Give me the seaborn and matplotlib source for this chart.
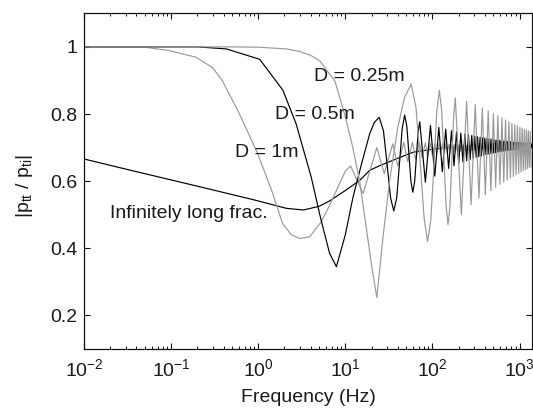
import numpy as np
import matplotlib
matplotlib.use("Agg")
import matplotlib.pyplot as plt
import seaborn as sns
from matplotlib.ticker import FixedLocator, LogLocator, NullFormatter

# ---------------- data ----------------
inf_freq = [0.01, 0.03, 0.073, 0.2, 0.5, 0.87, 1.5, 2.1, 3.3, 5, 6.6, 10, 14.6, 19, 24.8, 40, 60, 100, 145, 300, 1400]
inf_mag = [0.666, 0.636, 0.612, 0.585, 0.56, 0.545, 0.529, 0.519, 0.514, 0.525, 0.541, 0.572, 0.602, 0.632, 0.646, 0.668, 0.686, 0.695, 0.70, 0.702, 0.702]

# D = 1 m
d1_freq_start = [0.01, 0.05, 0.095, 0.194, 0.30, 0.39, 0.61, 0.99, 1.47, 1.9, 2.4, 3.0, 3.9, 5.3, 6.6, 8.5, 10.0]
d1_mag_start = [1.0, 0.999, 0.989, 0.969, 0.938, 0.898, 0.80, 0.681, 0.563, 0.474, 0.44, 0.429, 0.434, 0.479, 0.528, 0.59, 0.63]
d1_peak_freq = [11.5, 23, 35, 47, 59, 71, 83, 95, 107, 119, 131, 143, 155, 167, 179, 191, 203, 215, 227, 239,
                251, 263, 275, 287, 299, 311, 323, 335, 347, 359, 371, 383, 395]
d1_peak_mag = [0.645, 0.700, 0.711, 0.716, 0.716, 0.715, 0.714, 0.713, 0.712, 0.712, 0.711, 0.711, 0.710, 0.710,
               0.709, 0.709, 0.709, 0.708, 0.708, 0.708, 0.707, 0.707, 0.707, 0.707, 0.706, 0.706, 0.706, 0.706,
               0.706, 0.705, 0.705, 0.705, 0.705]
d1_trough_freq = [16, 28, 40, 52, 64, 76, 88, 100, 112, 124, 136, 148, 160, 172, 184, 196, 208, 220, 232, 244,
                  256, 268, 280, 292, 304, 316, 328, 340, 352, 364, 376, 388, 400]
d1_trough_mag = [0.563, 0.622, 0.645, 0.658, 0.665, 0.670, 0.674, 0.677, 0.679, 0.681, 0.683, 0.684, 0.685, 0.686,
                 0.687, 0.688, 0.689, 0.690, 0.690, 0.691, 0.691, 0.692, 0.692, 0.693, 0.693, 0.694, 0.694, 0.694,
                 0.695, 0.695, 0.695, 0.696, 0.696]
d1_freq_tail = [700, 1400]
d1_mag_tail = [0.701, 0.701]

# D = 0.5 m
d05_freq_start = [0.01, 0.2, 0.43, 1.04, 1.92, 2.73, 4.06, 5.2, 6.6, 7.9, 10, 12.2, 15.3, 19, 21.5]
d05_mag_start = [1.0, 1.0, 0.994, 0.963, 0.871, 0.77, 0.612, 0.49, 0.385, 0.345, 0.44, 0.55, 0.65, 0.74, 0.775]
d05_shape_freq = [27.4, 30.2, 33.1, 38.9, 41.9, 44.9, 50.9, 53.7, 56.6, 62.5, 65.5, 68.5]
d05_shape_mag = [0.75, 0.65, 0.55, 0.55, 0.654, 0.755, 0.763, 0.682, 0.6, 0.598, 0.672, 0.746]
d05_peak_freq = [24.5, 48, 71.5, 95, 118.5, 142, 165.5, 189, 212, 236, 259, 283, 306, 330, 353, 377, 400, 424,
                 447, 471, 494, 518, 541, 565, 588, 612, 635, 659, 682, 706, 729, 753, 776, 800, 823, 847, 870,
                 894, 917, 941, 964, 988, 1011, 1035, 1058, 1082, 1105, 1129, 1152, 1176, 1199, 1223, 1246,
                 1270, 1293, 1317, 1340, 1364]
d05_peak_mag = [0.790, 0.797, 0.777, 0.766, 0.760, 0.755, 0.750, 0.746, 0.743, 0.740, 0.738, 0.736, 0.734, 0.732,
                0.731, 0.729, 0.728, 0.727, 0.726, 0.725, 0.724, 0.723, 0.722, 0.722, 0.721, 0.720, 0.720, 0.719,
                0.719, 0.718, 0.718, 0.717, 0.717, 0.717, 0.716, 0.716, 0.716, 0.715, 0.715, 0.715, 0.714, 0.714,
                0.714, 0.714, 0.713, 0.713, 0.713, 0.713, 0.713, 0.712, 0.712, 0.712, 0.712, 0.712, 0.711, 0.711,
                0.711, 0.711]
d05_trough_freq = [36, 59.5, 83, 106.5, 130, 153.5, 177, 200.5, 224, 247, 271, 294, 318, 341, 365, 388, 412, 435,
                   459, 482, 506, 529, 553, 576, 600, 623, 647, 670, 694, 717, 741, 764, 788, 811, 835, 858, 882,
                   905, 929, 952, 976, 999, 1023, 1046, 1070, 1093, 1117, 1140, 1164, 1187, 1211, 1234, 1258,
                   1281, 1305, 1328, 1352, 1375]
d05_trough_mag = [0.511, 0.567, 0.597, 0.615, 0.628, 0.638, 0.646, 0.652, 0.657, 0.661, 0.665, 0.668, 0.671, 0.673,
                  0.675, 0.677, 0.679, 0.680, 0.682, 0.683, 0.684, 0.685, 0.686, 0.687, 0.688, 0.689, 0.689, 0.690,
                  0.691, 0.691, 0.692, 0.692, 0.693, 0.693, 0.694, 0.694, 0.694, 0.695, 0.695, 0.695, 0.696, 0.696,
                  0.696, 0.697, 0.697, 0.697, 0.697, 0.698, 0.698, 0.698, 0.698, 0.698, 0.699, 0.699, 0.699, 0.699,
                  0.699, 0.699]

# D = 0.25 m
d025_freq_start = [0.01, 0.5, 1.0, 2.1, 3.0, 4.0, 5.1, 6.0, 7.6, 9.8, 12.2, 14.6, 17, 20]
d025_mag_start = [1.0, 1.0, 0.999, 0.994, 0.986, 0.975, 0.958, 0.933, 0.898, 0.80, 0.70, 0.60, 0.48, 0.35]
d025_shape_freq = [27, 32.3, 40, 48, 64.75, 72.5, 80.25, 96, 104, 112, 127.75, 135.5, 143.25, 159, 167, 175]
d025_shape_mag = [0.43, 0.602, 0.76, 0.85, 0.82, 0.655, 0.49, 0.486, 0.645, 0.805, 0.81, 0.67, 0.53, 0.525, 0.66, 0.79]
d025_peak_freq = [57, 120, 183, 247, 310, 374, 437, 501, 564, 628, 691, 755, 818, 882, 945, 1009, 1072, 1136,
                  1199, 1263, 1326]
d025_peak_mag = [0.889, 0.871, 0.848, 0.838, 0.828, 0.818, 0.809, 0.801, 0.795, 0.788, 0.782, 0.777, 0.772, 0.768,
                 0.764, 0.760, 0.757, 0.754, 0.752, 0.750, 0.748]
d025_trough_freq = [23, 88, 151, 215, 278, 342, 405, 469, 532, 596, 659, 723, 786, 850, 913, 977, 1040, 1104,
                    1167, 1231, 1294, 1358]
d025_trough_mag = [0.253, 0.42, 0.47, 0.50, 0.53, 0.55, 0.56, 0.572, 0.582, 0.59, 0.597, 0.603, 0.609, 0.614,
                   0.619, 0.623, 0.627, 0.631, 0.634, 0.637, 0.64, 0.642]

x_ticks = [1e-2, 1e-1, 1e0, 1e1, 1e2, 1e3]
y_ticks = [0.2, 0.4, 0.6, 0.8, 1.0]
y_ticklabels = ["0.2", "0.4", "0.6", "0.8", "1"]


def build(*pairs):
    fs, vs = [], []
    for f, v in pairs:
        assert len(f) == len(v)
        fs.extend(f)
        vs.extend(v)
    fs = np.asarray(fs, float)
    vs = np.asarray(vs, float)
    o = np.argsort(fs, kind="stable")
    return fs[o], vs[o]


inf_f, inf_v = build((inf_freq, inf_mag))
d1_f, d1_v = build((d1_freq_start, d1_mag_start), (d1_peak_freq, d1_peak_mag),
                   (d1_trough_freq, d1_trough_mag), (d1_freq_tail, d1_mag_tail))
d05_f, d05_v = build((d05_freq_start, d05_mag_start), (d05_shape_freq, d05_shape_mag),
                     (d05_peak_freq, d05_peak_mag), (d05_trough_freq, d05_trough_mag))
d025_f, d025_v = build((d025_freq_start, d025_mag_start), (d025_shape_freq, d025_shape_mag),
                       (d025_peak_freq, d025_peak_mag), (d025_trough_freq, d025_trough_mag))

# ---------------- style ----------------
sns.set_theme(style="ticks")
plt.rcParams["font.family"] = ["Liberation Sans", "DejaVu Sans"]
plt.rcParams["mathtext.fontset"] = "custom"
plt.rcParams["mathtext.rm"] = "Liberation Sans"
plt.rcParams["mathtext.it"] = "Liberation Sans:italic"
plt.rcParams["mathtext.bf"] = "Liberation Sans:bold"

BLACK = "#000000"
GRAY = "#999999"
TXT = "#1a1a1a"
LW = 0.85

fig = plt.figure(figsize=(5.33, 4.11), dpi=100)
ax = fig.add_axes([0.1576, 0.151, 0.841, 0.8166])

sns.lineplot(x=inf_f, y=inf_v, ax=ax, color=BLACK, lw=LW, estimator=None, sort=False)
sns.lineplot(x=d1_f, y=d1_v, ax=ax, color=GRAY, lw=LW, estimator=None, sort=False)
sns.lineplot(x=d05_f, y=d05_v, ax=ax, color=BLACK, lw=LW, estimator=None, sort=False)
sns.lineplot(x=d025_f, y=d025_v, ax=ax, color=GRAY, lw=LW, estimator=None, sort=False)

ax.set_xscale("log")
ax.set_xlim(0.01, 1400)
ax.set_ylim(0.1, 1.1)
ax.xaxis.set_major_locator(FixedLocator(x_ticks))
ax.xaxis.set_minor_locator(LogLocator(base=10, subs=np.arange(2, 10), numticks=20))
ax.xaxis.set_minor_formatter(NullFormatter())
ax.yaxis.set_major_locator(FixedLocator(y_ticks))
ax.set_yticklabels(y_ticklabels)

for s in ax.spines.values():
    s.set_visible(True)
    s.set_color("#111111")
    s.set_linewidth(0.9)

ax.tick_params(which="both", direction="in", top=True, right=True, colors="#111111",
               labelcolor=TXT, labelsize=14)
ax.tick_params(which="major", length=4, width=0.8)
ax.tick_params(which="minor", length=2.2, width=0.7)
ax.tick_params(axis="x", which="major", pad=7)
ax.tick_params(axis="y", which="major", pad=5)

ax.set_xlabel("Frequency (Hz)", fontsize=14, color=TXT, labelpad=6)
ax.set_ylabel(r"$\mathregular{|p_{tt}\ /\ p_{ti}|}$", fontsize=14, color=TXT)
ax.yaxis.set_label_coords(-0.132, 0.485)
ax.yaxis.label.set_va("center")

ax.text(4.35, 0.913, "D = 0.25m", fontsize=14, color=TXT, ha="left", va="center")
ax.text(1.54, 0.80, "D = 0.5m", fontsize=14, color=TXT, ha="left", va="center")
ax.text(0.548, 0.686, "D = 1m", fontsize=14, color=TXT, ha="left", va="center")
ax.text(0.02, 0.503, "Infinitely long frac.", fontsize=14, color=TXT, ha="left", va="center")

fig.savefig("out.png", dpi=100)
